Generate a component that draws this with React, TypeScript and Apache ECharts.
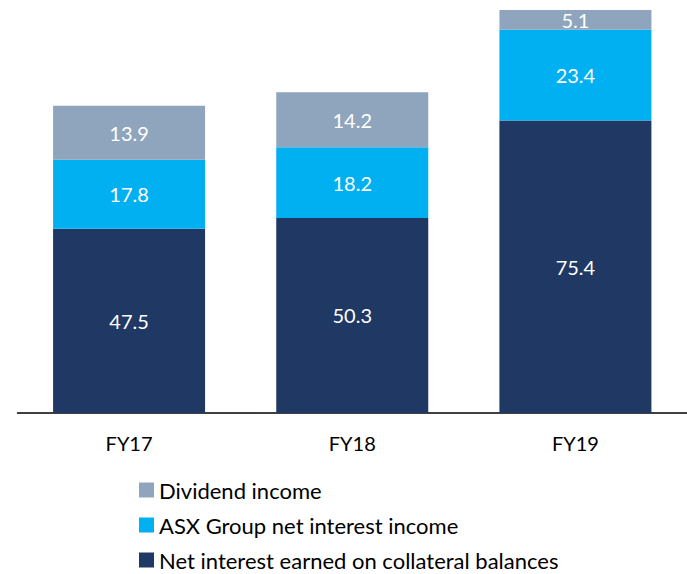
import React, { useEffect, useRef } from "react";
import * as echarts from "echarts";

const categories = ["FY17", "FY18", "FY19"];
const netInterestCollateral = [47.5, 50.3, 75.4];
const asxNetInterest = [17.8, 18.2, 23.4];
const dividendIncome = [13.9, 14.2, 5.1];
const seriesNames = [
  "Net interest earned on collateral balances",
  "ASX Group net interest income",
  "Dividend income",
];

export default function App() {
  const ref = useRef<HTMLDivElement>(null);
  useEffect(() => {
    if (!ref.current) return;
    const chart = echarts.init(ref.current, null, { renderer: "svg" });
    const totals = categories.map(
      (_, i) => netInterestCollateral[i] + asxNetInterest[i] + dividendIncome[i]
    );
    const maxTotal = Math.max(...totals);
    const font = "Lato, 'Noto Sans', sans-serif";
    const label = {
      show: true,
      position: "inside" as const,
      color: "#ffffff",
      fontSize: 20,
      fontFamily: font,
    };
    chart.setOption({
      animation: false,
      textStyle: { fontFamily: font },
      grid: { left: 17.5, top: 10, width: 681, bottom: 161, containLabel: false },
      xAxis: {
        type: "category",
        data: categories,
        axisLine: { show: true, lineStyle: { color: "#000000", width: 1.5 } },
        axisTick: { show: false },
        axisLabel: { color: "#000000", fontSize: 20, margin: 20, fontFamily: font },
      },
      yAxis: {
        type: "value",
        min: 0,
        max: maxTotal,
        show: false,
        splitLine: { show: false },
      },
      legend: {
        orient: "vertical",
        left: 139,
        top: 479,
        height: 100,
        icon: "rect",
        itemWidth: 15,
        itemHeight: 15,
        itemGap: 13,
        itemStyle: { borderWidth: 0 },
        padding: 0,
        data: [seriesNames[2], seriesNames[1], seriesNames[0]],
        textStyle: { color: "#000000", fontSize: 22, fontFamily: font, lineHeight: 22 },
      },
      series: [
        {
          name: seriesNames[0],
          type: "bar",
          stack: "total",
          barWidth: 152,
          data: netInterestCollateral,
          itemStyle: { color: "#1F3864" },
          label,
        },
        {
          name: seriesNames[1],
          type: "bar",
          stack: "total",
          barWidth: 152,
          data: asxNetInterest,
          itemStyle: { color: "#00B0F0" },
          label,
        },
        {
          name: seriesNames[2],
          type: "bar",
          stack: "total",
          barWidth: 152,
          data: dividendIncome,
          itemStyle: { color: "#8EA5BD" },
          label,
        },
      ],
    });
    return () => chart.dispose();
  }, []);
  return (
    <div
      ref={ref}
      style={{ position: "fixed", left: 0, top: 0, width: 687, height: 574, background: "#ffffff" }}
    />
  );
}
